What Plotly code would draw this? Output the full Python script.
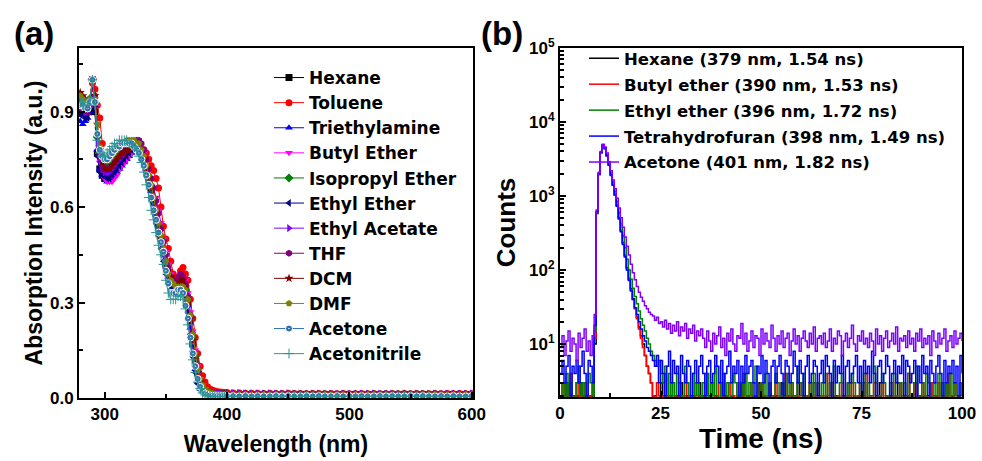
import plotly.graph_objects as go

# ---------------- Panel (a): absorption spectra ----------------
wl_head = list(range(280, 401, 2))          # 280..400 nm, 2 nm step
wl_tail = list(range(405, 601, 5))          # 405..600 nm, 5 nm step
wavelength = wl_head + wl_tail

solvents_a = ["Hexane", "Toluene", "Triethylamine", "Butyl Ether", "Isopropyl Ether",
              "Ethyl Ether", "Ethyl Acetate", "THF", "DCM", "DMF", "Acetone", "Acetonitrile"]

hexane_abs = [0.91, 0.91, 0.90, 0.90, 0.92, 1.00, 0.90, 0.77, 0.72, 0.70, 0.69, 0.69, 0.69, 0.70, 0.71, 0.72,
              0.73, 0.74, 0.75, 0.76, 0.77, 0.78, 0.78, 0.78, 0.78, 0.77, 0.75, 0.72, 0.69, 0.66, 0.62, 0.58,
              0.54, 0.50, 0.46, 0.42, 0.39, 0.37, 0.36, 0.35, 0.35, 0.36, 0.36, 0.34, 0.30, 0.24, 0.17, 0.11,
              0.07, 0.045, 0.03, 0.022, 0.018, 0.016, 0.014, 0.013, 0.012, 0.012, 0.011, 0.011, 0.011]
toluene_abs = [0.95, 0.94, 0.93, 0.93, 0.94, 0.99, 0.97, 0.92, 0.88, 0.80, 0.74, 0.71, 0.70, 0.70, 0.71, 0.72,
               0.74, 0.75, 0.76, 0.77, 0.78, 0.78, 0.79, 0.79, 0.79, 0.78, 0.78, 0.77, 0.75, 0.73, 0.715, 0.69,
               0.66, 0.60, 0.54, 0.50, 0.47, 0.43, 0.39, 0.37, 0.38, 0.40, 0.41, 0.39, 0.37, 0.31, 0.25, 0.19,
               0.14, 0.10, 0.07, 0.05, 0.035, 0.028, 0.024, 0.022, 0.020, 0.019, 0.018, 0.017, 0.017]
triethylamine_abs = [0.87, 0.86, 0.87, 0.88, 0.90, 1.00, 0.92, 0.78, 0.72, 0.70, 0.69, 0.68, 0.68, 0.69, 0.70, 0.71,
                     0.72, 0.73, 0.74, 0.75, 0.76, 0.77, 0.78, 0.78, 0.78, 0.77, 0.75, 0.72, 0.69, 0.65, 0.61, 0.57,
                     0.53, 0.49, 0.45, 0.41, 0.38, 0.36, 0.35, 0.35, 0.35, 0.36, 0.36, 0.34, 0.29, 0.22, 0.15, 0.09,
                     0.05, 0.03, 0.02, 0.015, 0.013, 0.012, 0.011, 0.011, 0.010, 0.010, 0.010, 0.010, 0.010]
butyl_ether_abs = [0.90, 0.90, 0.89, 0.89, 0.91, 1.00, 0.94, 0.82, 0.74, 0.71, 0.69, 0.68, 0.68, 0.68, 0.69, 0.70,
                   0.72, 0.73, 0.74, 0.75, 0.76, 0.77, 0.78, 0.79, 0.79, 0.78, 0.77, 0.75, 0.72, 0.69, 0.66, 0.63,
                   0.59, 0.55, 0.50, 0.46, 0.42, 0.39, 0.37, 0.36, 0.37, 0.38, 0.38, 0.37, 0.33, 0.27, 0.21, 0.15,
                   0.10, 0.06, 0.04, 0.028, 0.022, 0.018, 0.016, 0.015, 0.014, 0.013, 0.013, 0.012, 0.012]
isopropyl_ether_abs = [0.93, 0.93, 0.92, 0.92, 0.94, 1.00, 0.93, 0.82, 0.77, 0.75, 0.74, 0.74, 0.74, 0.75, 0.76, 0.77,
                       0.78, 0.79, 0.79, 0.80, 0.80, 0.80, 0.80, 0.79, 0.79, 0.77, 0.75, 0.72, 0.69, 0.66, 0.62, 0.58,
                       0.54, 0.50, 0.46, 0.42, 0.39, 0.37, 0.36, 0.35, 0.35, 0.35, 0.35, 0.34, 0.31, 0.25, 0.19, 0.13,
                       0.08, 0.05, 0.033, 0.024, 0.019, 0.016, 0.014, 0.013, 0.012, 0.012, 0.011, 0.011, 0.011]
ethyl_ether_abs = [0.89, 0.89, 0.88, 0.88, 0.90, 1.00, 0.91, 0.76, 0.71, 0.70, 0.70, 0.69, 0.69, 0.70, 0.71, 0.72,
                   0.73, 0.74, 0.75, 0.76, 0.77, 0.78, 0.78, 0.78, 0.77, 0.76, 0.73, 0.70, 0.67, 0.63, 0.59, 0.55,
                   0.51, 0.47, 0.43, 0.39, 0.36, 0.34, 0.33, 0.33, 0.33, 0.34, 0.34, 0.32, 0.27, 0.20, 0.13, 0.08,
                   0.045, 0.025, 0.015, 0.011, 0.009, 0.008, 0.008, 0.007, 0.007, 0.007, 0.007, 0.007, 0.007]
ethyl_acetate_abs = [0.91, 0.91, 0.90, 0.90, 0.92, 1.00, 0.93, 0.80, 0.75, 0.72, 0.71, 0.71, 0.71, 0.72, 0.73, 0.74,
                     0.75, 0.76, 0.77, 0.78, 0.78, 0.79, 0.79, 0.79, 0.79, 0.78, 0.76, 0.73, 0.70, 0.67, 0.63, 0.59,
                     0.55, 0.51, 0.47, 0.43, 0.40, 0.38, 0.36, 0.36, 0.36, 0.37, 0.37, 0.35, 0.31, 0.25, 0.18, 0.12,
                     0.08, 0.05, 0.032, 0.024, 0.019, 0.017, 0.016, 0.015, 0.015, 0.014, 0.014, 0.014, 0.014]
thf_abs = [0.91, 0.91, 0.91, 0.90, 0.92, 1.00, 0.95, 0.83, 0.76, 0.73, 0.72, 0.72, 0.72, 0.73, 0.74, 0.75,
           0.76, 0.77, 0.78, 0.79, 0.79, 0.80, 0.80, 0.81, 0.81, 0.80, 0.78, 0.75, 0.72, 0.69, 0.66, 0.62,
           0.58, 0.53, 0.49, 0.45, 0.41, 0.38, 0.37, 0.37, 0.38, 0.39, 0.38, 0.36, 0.32, 0.26, 0.20, 0.14,
           0.09, 0.055, 0.035, 0.025, 0.019, 0.016, 0.014, 0.013, 0.013, 0.012, 0.012, 0.012, 0.012]
dcm_abs = [0.96, 0.95, 0.94, 0.93, 0.94, 1.00, 0.95, 0.86, 0.78, 0.74, 0.72, 0.72, 0.72, 0.73, 0.74, 0.75,
           0.76, 0.77, 0.77, 0.78, 0.78, 0.79, 0.79, 0.79, 0.78, 0.77, 0.75, 0.72, 0.69, 0.66, 0.63, 0.59,
           0.55, 0.51, 0.47, 0.43, 0.40, 0.38, 0.36, 0.36, 0.36, 0.37, 0.37, 0.35, 0.31, 0.25, 0.18, 0.12,
           0.08, 0.05, 0.032, 0.023, 0.018, 0.015, 0.013, 0.012, 0.012, 0.011, 0.011, 0.011, 0.011]
dmf_abs = [0.95, 0.94, 0.93, 0.93, 0.94, 1.00, 0.94, 0.86, 0.79, 0.76, 0.75, 0.75, 0.75, 0.76, 0.77, 0.78,
           0.79, 0.80, 0.80, 0.81, 0.81, 0.81, 0.81, 0.80, 0.80, 0.78, 0.76, 0.73, 0.70, 0.67, 0.63, 0.59,
           0.55, 0.51, 0.47, 0.43, 0.39, 0.37, 0.36, 0.35, 0.35, 0.35, 0.35, 0.34, 0.31, 0.26, 0.20, 0.14,
           0.09, 0.06, 0.04, 0.028, 0.021, 0.017, 0.015, 0.013, 0.012, 0.012, 0.011, 0.011, 0.011]
acetone_abs = [0.92, 0.92, 0.91, 0.91, 0.93, 1.00, 0.93, 0.83, 0.78, 0.76, 0.75, 0.75, 0.76, 0.77, 0.78, 0.79,
               0.79, 0.80, 0.80, 0.80, 0.80, 0.80, 0.79, 0.78, 0.77, 0.75, 0.73, 0.70, 0.67, 0.63, 0.59, 0.56,
               0.52, 0.49, 0.46, 0.40, 0.36, 0.33, 0.33, 0.33, 0.34, 0.34, 0.33, 0.29, 0.25, 0.19, 0.14, 0.10,
               0.06, 0.035, 0.02, 0.013, 0.010, 0.008, 0.007, 0.007, 0.006, 0.006, 0.006, 0.006, 0.006]
acetonitrile_abs = [0.93, 0.93, 0.92, 0.92, 0.94, 1.00, 0.92, 0.81, 0.77, 0.76, 0.76, 0.77, 0.78, 0.79, 0.80, 0.80,
                    0.81, 0.81, 0.81, 0.81, 0.80, 0.80, 0.79, 0.78, 0.76, 0.74, 0.71, 0.67, 0.63, 0.59, 0.56, 0.52,
                    0.48, 0.45, 0.42, 0.37, 0.33, 0.31, 0.31, 0.31, 0.32, 0.32, 0.31, 0.28, 0.23, 0.17, 0.12, 0.08,
                    0.05, 0.03, 0.016, 0.010, 0.007, 0.006, 0.005, 0.005, 0.005, 0.005, 0.005, 0.005, 0.005]

# long-wavelength baselines (405-600 nm)
tail_low = [0.006, 0.005, 0.006, 0.005, 0.006, 0.005, 0.005, 0.006, 0.005, 0.006, 0.005, 0.005, 0.006, 0.005,
            0.006, 0.005, 0.005, 0.006, 0.005, 0.006, 0.005, 0.006, 0.005, 0.005, 0.006, 0.005, 0.006, 0.005,
            0.005, 0.006, 0.005, 0.006, 0.005, 0.005, 0.006, 0.005, 0.006, 0.005, 0.005, 0.006]
tail_mid = [0.011, 0.010, 0.011, 0.010, 0.010, 0.011, 0.010, 0.011, 0.010, 0.010, 0.011, 0.010, 0.011, 0.010,
            0.010, 0.011, 0.010, 0.010, 0.011, 0.010, 0.011, 0.010, 0.010, 0.011, 0.010, 0.011, 0.010, 0.010,
            0.011, 0.010, 0.010, 0.011, 0.010, 0.011, 0.010, 0.010, 0.011, 0.010, 0.011, 0.010]
tail_high = [0.016, 0.016, 0.015, 0.015, 0.015, 0.014, 0.015, 0.014, 0.014, 0.015, 0.014, 0.014, 0.013, 0.014,
             0.014, 0.013, 0.014, 0.013, 0.014, 0.013, 0.013, 0.014, 0.013, 0.014, 0.013, 0.013, 0.014, 0.013,
             0.014, 0.013, 0.014, 0.013, 0.013, 0.014, 0.013, 0.014, 0.013, 0.014, 0.013, 0.014]

heads = [hexane_abs, toluene_abs, triethylamine_abs, butyl_ether_abs, isopropyl_ether_abs, ethyl_ether_abs,
         ethyl_acetate_abs, thf_abs, dcm_abs, dmf_abs, acetone_abs, acetonitrile_abs]
tails = [tail_mid, tail_high, tail_mid, tail_mid, tail_mid, tail_low,
         tail_high, tail_mid, tail_mid, tail_mid, tail_low, tail_low]

colors_a = ["#000000", "#FF0000", "#0000FF", "#FF00FF", "#008000", "#000080",
            "#8000FF", "#800080", "#800000", "#808000", "#2F6FAF", "#2E9393"]
symbols_a = ["square", "circle", "triangle-up", "triangle-down", "diamond", "triangle-left",
             "triangle-right", "hexagon", "star", "pentagon", "circle-dot", "cross-thin"]

# ---------------- Panel (b): TRPL decays ----------------
time_ns = [i * 0.5 for i in range(201)]     # 0..100 ns, 0.5 ns channels

solvents_b = ["Hexane (379 nm, 1.54 ns)", "Butyl ether (390 nm, 1.53 ns)", "Ethyl ether (396 nm, 1.72 ns)",
              "Tetrahydrofuran (398 nm, 1.49 ns)", "Acetone (401 nm, 1.82 ns)"]

hexane_counts = [2, 1, 1, 3, 1, 2, 1, 1, 2, 1, 3, 1, 2, 1, 1, 2, 1,
                 10, 580, 1950, 3850, 4850, 4400, 3500, 2650, 1960, 1430, 1050, 750, 510, 345, 235, 158, 108, 77,
                 56, 41, 31, 23, 17, 13, 10, 7, 5, 4, 3,
                 1, 2, 1, 1, 3, 1, 2, 1, 1, 2, 1, 1, 2, 1, 3, 1, 1, 2, 1, 1,
                 2, 1, 1, 3, 1, 2, 1, 1, 2, 1, 1, 2, 1, 1, 3, 1, 2, 1, 1, 2,
                 1, 1, 2, 1, 3, 1, 1, 2, 1, 1, 2, 1, 1, 3, 1, 2, 1, 1, 2, 1,
                 1, 2, 1, 1, 3, 1, 1, 2, 1, 2, 1, 1, 3, 1, 1, 2, 1, 1, 2, 1,
                 3, 1, 1, 2, 1, 1, 2, 1, 1, 3, 1, 2, 1, 1, 2, 1, 1, 3, 1, 1,
                 2, 1, 1, 2, 1, 3, 1, 1, 2, 1, 1, 2, 1, 3, 1, 1, 2, 1, 1, 2,
                 1, 1, 3, 1, 2, 1, 1, 2, 1, 1, 3, 1, 1, 2, 1, 2, 1, 1, 3, 1,
                 1, 2, 1, 1, 2, 1, 3, 1, 1, 2, 1, 1, 2, 1, 1]
butyl_counts = [1, 3, 2, 1, 2, 4, 1, 2, 3, 1, 2, 1, 3, 2, 1, 2, 3,
                12, 590, 1950, 3850, 4850, 4400, 3500, 2650, 1950, 1420, 1040, 740, 500, 340, 230, 155, 105, 75,
                54, 40, 30, 22, 16, 12, 9, 7, 5, 4, 3,
                2, 1, 3, 2, 1, 2, 4, 1, 2, 3, 1, 2, 1, 3, 2, 1, 2, 3, 1, 2,
                1, 3, 2, 1, 2, 1, 4, 2, 1, 3, 2, 1, 2, 3, 1, 2, 1, 2, 3, 1,
                2, 1, 3, 1, 2, 4, 1, 2, 1, 3, 2, 1, 2, 1, 3, 2, 1, 2, 3, 1,
                2, 3, 1, 2, 1, 2, 4, 1, 2, 3, 1, 2, 1, 2, 3, 1, 2, 1, 3, 2,
                1, 2, 3, 1, 2, 1, 2, 4, 1, 3, 2, 1, 2, 1, 3, 2, 1, 2, 1, 3,
                2, 1, 2, 3, 1, 2, 4, 1, 2, 1, 3, 2, 1, 2, 3, 1, 2, 1, 2, 3,
                1, 2, 1, 3, 2, 1, 2, 4, 1, 2, 3, 1, 2, 1, 3, 2, 1, 2, 3, 1,
                2, 1, 3, 2, 1, 2, 1, 4, 2, 1, 3, 2, 1, 2, 3]
ethyl_counts = [2, 3, 1, 4, 2, 3, 2, 1, 3, 5, 2, 3, 1, 2, 4, 3, 2,
                15, 600, 2000, 3900, 4900, 4500, 3600, 2750, 2050, 1550, 1150, 850, 600, 420, 290, 200, 140, 100,
                75, 57, 44, 35, 28, 22, 18, 15, 12, 10, 8, 7, 6, 5, 6, 4,
                3, 5, 2, 4, 1, 3, 2, 4, 3, 1, 2, 5, 3, 2, 1, 4, 2, 3, 2, 1,
                3, 2, 4, 1, 3, 2, 5, 2, 1, 3, 4, 2, 3, 1, 2, 4, 3, 2, 1, 3,
                2, 4, 1, 3, 2, 3, 5, 1, 2, 3, 2, 4, 1, 3, 2, 2, 4, 3, 1, 2,
                3, 1, 4, 2, 3, 2, 1, 5, 3, 2, 4, 1, 2, 3, 2, 4, 1, 3, 2, 3,
                1, 4, 2, 3, 2, 5, 1, 2, 3, 4, 2, 1, 3, 2, 4, 3, 1, 2, 3, 2,
                4, 1, 3, 2, 2, 5, 3, 1, 2, 4, 3, 2, 1, 3, 2, 4, 2, 1, 3, 2,
                3, 2, 4, 1, 2, 3, 5, 2, 1, 3, 2, 4, 3, 1, 2, 3, 2, 4, 1, 3,
                2, 3, 1, 4, 2, 3, 2, 1, 3, 2]
thf_counts = [4, 6, 3, 5, 7, 2, 5, 4, 6, 3, 5, 8, 4, 2, 6, 5, 3,
              18, 620, 2000, 3900, 4900, 4400, 3500, 2600, 1900, 1400, 1030, 730, 490, 330, 222, 150, 100, 72,
              52, 40, 31, 25, 20, 16, 13, 11, 9, 8, 7, 6,
              5, 7, 3, 6, 4, 2, 5, 8, 3, 6, 4, 5, 2, 7, 4, 3, 6, 5, 1, 4,
              6, 3, 5, 7, 4, 2, 5, 6, 3, 4, 7, 5, 3, 6, 2, 4, 5, 8, 3, 5,
              4, 6, 2, 5, 3, 7, 4, 5, 6, 3, 1, 5, 4, 7, 3, 6, 4, 2, 5, 6,
              3, 5, 7, 4, 2, 6, 5, 3, 4, 8, 5, 3, 6, 4, 2, 5, 7, 3, 4, 6,
              5, 2, 4, 6, 3, 7, 5, 4, 1, 6, 3, 5, 4, 7, 2, 5, 6, 3, 4, 5,
              7, 3, 5, 2, 6, 4, 5, 3, 8, 4, 2, 5, 6, 3, 4, 7, 5, 2, 4, 6,
              3, 5, 4, 7, 2, 6, 5, 3, 4, 6, 1, 5, 3, 7, 4, 5, 2, 6, 4, 3,
              5, 7, 4, 2, 6, 3, 5, 4, 6, 3, 5, 2, 7, 4]
acetone_counts = [9, 13, 7, 11, 15, 8, 12, 10, 6, 14, 9, 12, 16, 8, 11, 7, 13,
                  25, 650, 2100, 4000, 5000, 4600, 3800, 2900, 2200, 1650, 1250, 930, 690, 510, 380, 280, 210, 160,
                  120, 92, 74, 60, 50, 43, 38, 33, 30, 27, 25, 24, 21, 23, 19, 20, 17, 21, 16, 19, 14, 18, 15, 20,
                  13, 17, 15, 19, 12, 16, 14, 18, 11, 15, 13, 16,
                  12, 9, 15, 11, 8, 14, 10, 13, 17, 9, 12, 7, 14, 11, 16, 10, 8, 13, 12, 19,
                  10, 14, 8, 11, 15, 9, 13, 12, 7, 16, 10, 14, 11, 9, 18, 12, 8, 13, 10, 15,
                  9, 12, 14, 7, 11, 16, 10, 13, 8, 12, 15, 11, 9, 14, 10, 17, 8, 12, 13, 10,
                  14, 9, 11, 16, 8, 12, 10, 15, 13, 7, 11, 14, 9, 12, 18, 10, 8, 13, 11, 15,
                  10, 12, 9, 14, 11, 7, 16, 10, 13, 8, 12, 15, 9, 11, 14, 10, 17, 8, 12, 11,
                  13, 9, 15, 10, 12, 8, 14, 11, 16, 9, 12, 10, 13, 7, 15, 11, 9, 14, 10, 12,
                  16, 8, 11, 13, 9, 15, 10, 12, 14, 11]

counts_b = [hexane_counts, butyl_counts, ethyl_counts, thf_counts, acetone_counts]
colors_b = ["#000000", "#FF0000", "#008000", "#0000FF", "#8000FF"]

count_ticks = [10, 100, 1000, 10000, 100000]
count_ticktext = ["10<sup>1</sup>", "10<sup>2</sup>", "10<sup>3</sup>", "10<sup>4</sup>", "10<sup>5</sup>"]

FONT = "Liberation Sans, Arial, sans-serif"
LEGFONT = "DejaVu Sans, Liberation Sans, sans-serif"

fig = go.Figure()

for name, head, tail, col, sym in zip(solvents_a, heads, tails, colors_a, symbols_a):
    if sym == "cross-thin":
        marker = dict(symbol=sym, size=7, color=col, line=dict(color=col, width=1))
    elif sym == "circle-dot":
        marker = dict(symbol=sym, size=7, color=col, line=dict(color="white", width=1))
    else:
        marker = dict(symbol=sym, size=7, color=col, line=dict(width=0))
    fig.add_trace(go.Scatter(x=wavelength, y=head + tail, name=name, mode="lines+markers",
                             line=dict(color=col, width=1), marker=marker,
                             xaxis="x", yaxis="y", legend="legend"))

for name, cnt, col in zip(solvents_b, counts_b, colors_b):
    fig.add_trace(go.Scatter(x=time_ns, y=cnt, name=name, mode="lines",
                             line=dict(color=col, width=1.5, shape="hv"),
                             legendgroup=name,
                             xaxis="x2", yaxis="y2", legend="legend2"))

W, H = 982, 461
def px(x):
    return x / W
def py(y):
    return 1 - y / H

axis_common = dict(showline=True, linecolor="black", linewidth=2, mirror=True, automargin=False,
                   ticks="inside", ticklen=6, tickwidth=2, tickcolor="black",
                   showgrid=False, zeroline=False,
                   tickfont=dict(family=FONT, size=17, color="black", weight="bold"))

fig.update_layout(
    width=W, height=H,
    margin=dict(l=0, r=0, t=0, b=0, autoexpand=False),
    paper_bgcolor="white", plot_bgcolor="white",
    font=dict(family=FONT, color="black"),
    xaxis=dict(domain=[px(79), px(473)], range=[279, 601], tick0=300, dtick=100,
               minor=dict(dtick=50, ticks="inside", ticklen=4, tickwidth=2, tickcolor="black"),
               title=dict(text="Wavelength (nm)", standoff=12,
                          font=dict(family=FONT, size=23, color="black", weight="bold")),
               anchor="y", **axis_common),
    yaxis=dict(domain=[py(398), py(48)], range=[0, 1.1], tick0=0, dtick=0.3, tickformat=".1f",
               minor=dict(dtick=0.15, ticks="inside", ticklen=4, tickwidth=2, tickcolor="black"),
               title=dict(text="Absorption Intensity (a.u.)", standoff=1,
                          font=dict(family=FONT, size=23, color="black", weight="bold")),
               anchor="x", **axis_common),
    xaxis2=dict(domain=[px(560), px(962)], range=[0, 100], tick0=0, dtick=25,
                minor=dict(dtick=12.5, ticks="inside", ticklen=4, tickwidth=2, tickcolor="black"),
                title=dict(text="Time (ns)", standoff=0,
                           font=dict(family=FONT, size=28, color="black", weight="bold")),
                anchor="y2", **axis_common),
    yaxis2=dict(domain=[py(397), py(48)], type="log", range=[0.285, 5.0],
                tickmode="array", tickvals=count_ticks, ticktext=count_ticktext,
                minor=dict(dtick="D1", ticks="inside", ticklen=4, tickwidth=1.5, tickcolor="black"),
                title=dict(text="Counts", standoff=6,
                           font=dict(family=FONT, size=26, color="black", weight="bold")),
                anchor="x2", **axis_common),
    legend=dict(x=px(269), y=py(60), xanchor="left", yanchor="top", bgcolor="rgba(0,0,0,0)",
                font=dict(family=LEGFONT, size=17, color="black", weight="bold"),
                itemwidth=30, tracegroupgap=0),
    legend2=dict(x=px(584), y=py(41), xanchor="left", yanchor="top", bgcolor="rgba(0,0,0,0)",
                 font=dict(family=LEGFONT, size=16.5, color="black", weight="bold"),
                 itemwidth=30, tracegroupgap=1.5),
    showlegend=True,
    annotations=[
        dict(text="(a)", x=px(12), y=py(33), xref="paper", yref="paper", xanchor="left", yanchor="middle",
             showarrow=False, font=dict(family=FONT, size=33, color="black", weight="bold")),
        dict(text="(b)", x=px(479), y=py(33), xref="paper", yref="paper", xanchor="left", yanchor="middle",
             showarrow=False, font=dict(family=FONT, size=33, color="black", weight="bold")),
    ],
)

fig.write_html("out.html", config={"displayModeBar": False},
               post_script="document.body.style.margin='0px';")
